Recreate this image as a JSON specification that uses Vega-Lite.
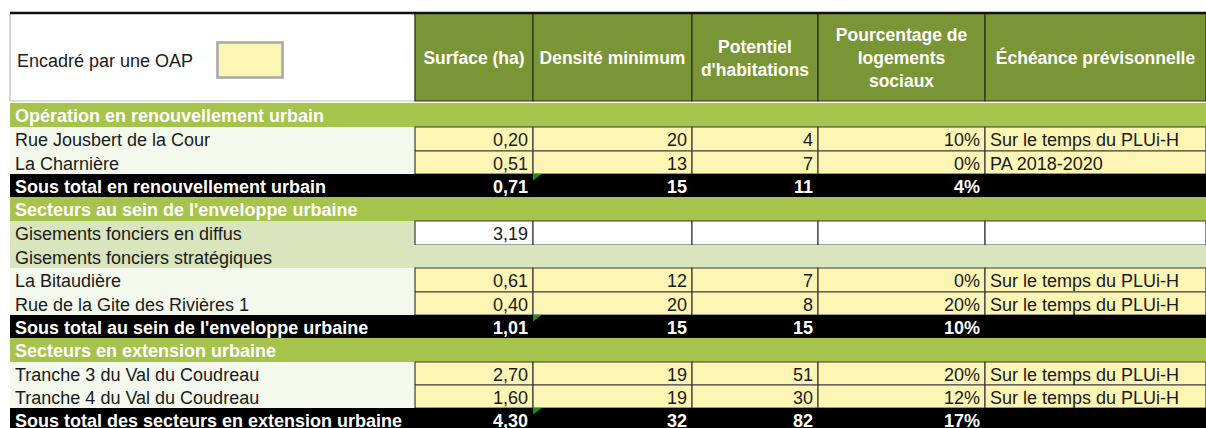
{
  "$schema": "https://vega.github.io/schema/vega-lite/v6.json",
  "width": 1206,
  "height": 428,
  "padding": 0,
  "autosize": {"type": "none"},
  "background": "white",
  "config": {"view": {"stroke": null}, "text": {"font": "Liberation Sans, Arial, sans-serif"}},
  "data": {"values": [
    {"l": 0, "c": 0, "c2": 1, "fond": "blanc", "role": "vide", "txt": ""},
    {"l": 0, "c": 1, "c2": 2, "fond": "entete", "role": "entete", "txt": "Surface (ha)"},
    {"l": 0, "c": 2, "c2": 3, "fond": "entete", "role": "entete", "txt": "Densité minimum"},
    {"l": 0, "c": 3, "c2": 4, "fond": "entete", "role": "entete", "txt": "Potentiel\nd'habitations"},
    {"l": 0, "c": 4, "c2": 5, "fond": "entete", "role": "entete", "txt": "Pourcentage de\nlogements\nsociaux"},
    {"l": 0, "c": 5, "c2": 6, "fond": "entete", "role": "entete", "txt": "Échéance prévisonnelle"},
    {"l": 2, "c": 0, "c2": 6, "fond": "section", "role": "section", "txt": "Opération en renouvellement urbain"},
    {"l": 3, "c": 0, "c2": 1, "fond": "libelle", "role": "libelle", "txt": "Rue Jousbert de la Cour"},
    {"l": 3, "c": 1, "c2": 2, "fond": "oap", "role": "nombre", "txt": "0,20"},
    {"l": 3, "c": 2, "c2": 3, "fond": "oap", "role": "nombre", "txt": "20"},
    {"l": 3, "c": 3, "c2": 4, "fond": "oap", "role": "nombre", "txt": "4"},
    {"l": 3, "c": 4, "c2": 5, "fond": "oap", "role": "nombre", "txt": "10%"},
    {"l": 3, "c": 5, "c2": 6, "fond": "oap", "role": "echeance", "txt": "Sur le temps du PLUi-H"},
    {"l": 4, "c": 0, "c2": 1, "fond": "libelle", "role": "libelle", "txt": "La Charnière"},
    {"l": 4, "c": 1, "c2": 2, "fond": "oap", "role": "nombre", "txt": "0,51"},
    {"l": 4, "c": 2, "c2": 3, "fond": "oap", "role": "nombre", "txt": "13"},
    {"l": 4, "c": 3, "c2": 4, "fond": "oap", "role": "nombre", "txt": "7"},
    {"l": 4, "c": 4, "c2": 5, "fond": "oap", "role": "nombre", "txt": "0%"},
    {"l": 4, "c": 5, "c2": 6, "fond": "oap", "role": "echeance", "txt": "PA 2018-2020"},
    {"l": 5, "c": 0, "c2": 1, "fond": "total", "role": "totlib", "txt": "Sous total en renouvellement urbain"},
    {"l": 5, "c": 1, "c2": 2, "fond": "total", "role": "totnb", "txt": "0,71"},
    {"l": 5, "c": 2, "c2": 3, "fond": "total", "role": "totnb", "txt": "15"},
    {"l": 5, "c": 3, "c2": 4, "fond": "total", "role": "totnb", "txt": "11"},
    {"l": 5, "c": 4, "c2": 5, "fond": "total", "role": "totnb", "txt": "4%"},
    {"l": 5, "c": 5, "c2": 6, "fond": "total", "role": "vide", "txt": ""},
    {"l": 6, "c": 0, "c2": 6, "fond": "section", "role": "section", "txt": "Secteurs au sein de l'enveloppe urbaine"},
    {"l": 7, "c": 0, "c2": 1, "fond": "gisement", "role": "libelle", "txt": "Gisements fonciers en diffus"},
    {"l": 7, "c": 1, "c2": 2, "fond": "vide", "role": "nombre", "txt": "3,19"},
    {"l": 7, "c": 2, "c2": 3, "fond": "vide", "role": "vide", "txt": ""},
    {"l": 7, "c": 3, "c2": 4, "fond": "vide", "role": "vide", "txt": ""},
    {"l": 7, "c": 4, "c2": 5, "fond": "vide", "role": "vide", "txt": ""},
    {"l": 7, "c": 5, "c2": 6, "fond": "vide", "role": "vide", "txt": ""},
    {"l": 8, "c": 0, "c2": 6, "fond": "gisement", "role": "libelle", "txt": "Gisements fonciers stratégiques"},
    {"l": 9, "c": 0, "c2": 1, "fond": "libelle", "role": "libelle", "txt": "La Bitaudière"},
    {"l": 9, "c": 1, "c2": 2, "fond": "oap", "role": "nombre", "txt": "0,61"},
    {"l": 9, "c": 2, "c2": 3, "fond": "oap", "role": "nombre", "txt": "12"},
    {"l": 9, "c": 3, "c2": 4, "fond": "oap", "role": "nombre", "txt": "7"},
    {"l": 9, "c": 4, "c2": 5, "fond": "oap", "role": "nombre", "txt": "0%"},
    {"l": 9, "c": 5, "c2": 6, "fond": "oap", "role": "echeance", "txt": "Sur le temps du PLUi-H"},
    {"l": 10, "c": 0, "c2": 1, "fond": "libelle", "role": "libelle", "txt": "Rue de la Gite des Rivières 1"},
    {"l": 10, "c": 1, "c2": 2, "fond": "oap", "role": "nombre", "txt": "0,40"},
    {"l": 10, "c": 2, "c2": 3, "fond": "oap", "role": "nombre", "txt": "20"},
    {"l": 10, "c": 3, "c2": 4, "fond": "oap", "role": "nombre", "txt": "8"},
    {"l": 10, "c": 4, "c2": 5, "fond": "oap", "role": "nombre", "txt": "20%"},
    {"l": 10, "c": 5, "c2": 6, "fond": "oap", "role": "echeance", "txt": "Sur le temps du PLUi-H"},
    {"l": 11, "c": 0, "c2": 1, "fond": "total", "role": "totlib", "txt": "Sous total au sein de l'enveloppe urbaine"},
    {"l": 11, "c": 1, "c2": 2, "fond": "total", "role": "totnb", "txt": "1,01"},
    {"l": 11, "c": 2, "c2": 3, "fond": "total", "role": "totnb", "txt": "15"},
    {"l": 11, "c": 3, "c2": 4, "fond": "total", "role": "totnb", "txt": "15"},
    {"l": 11, "c": 4, "c2": 5, "fond": "total", "role": "totnb", "txt": "10%"},
    {"l": 11, "c": 5, "c2": 6, "fond": "total", "role": "vide", "txt": ""},
    {"l": 12, "c": 0, "c2": 6, "fond": "section", "role": "section", "txt": "Secteurs en extension urbaine"},
    {"l": 13, "c": 0, "c2": 1, "fond": "libelle", "role": "libelle", "txt": "Tranche 3 du Val du Coudreau"},
    {"l": 13, "c": 1, "c2": 2, "fond": "oap", "role": "nombre", "txt": "2,70"},
    {"l": 13, "c": 2, "c2": 3, "fond": "oap", "role": "nombre", "txt": "19"},
    {"l": 13, "c": 3, "c2": 4, "fond": "oap", "role": "nombre", "txt": "51"},
    {"l": 13, "c": 4, "c2": 5, "fond": "oap", "role": "nombre", "txt": "20%"},
    {"l": 13, "c": 5, "c2": 6, "fond": "oap", "role": "echeance", "txt": "Sur le temps du PLUi-H"},
    {"l": 14, "c": 0, "c2": 1, "fond": "libelle", "role": "libelle", "txt": "Tranche 4 du Val du Coudreau"},
    {"l": 14, "c": 1, "c2": 2, "fond": "oap", "role": "nombre", "txt": "1,60"},
    {"l": 14, "c": 2, "c2": 3, "fond": "oap", "role": "nombre", "txt": "19"},
    {"l": 14, "c": 3, "c2": 4, "fond": "oap", "role": "nombre", "txt": "30"},
    {"l": 14, "c": 4, "c2": 5, "fond": "oap", "role": "nombre", "txt": "12%"},
    {"l": 14, "c": 5, "c2": 6, "fond": "oap", "role": "echeance", "txt": "Sur le temps du PLUi-H"},
    {"l": 15, "c": 0, "c2": 1, "fond": "total", "role": "totlib", "txt": "Sous total des secteurs en extension urbaine"},
    {"l": 15, "c": 1, "c2": 2, "fond": "total", "role": "totnb", "txt": "4,30"},
    {"l": 15, "c": 2, "c2": 3, "fond": "total", "role": "totnb", "txt": "32"},
    {"l": 15, "c": 3, "c2": 4, "fond": "total", "role": "totnb", "txt": "82"},
    {"l": 15, "c": 4, "c2": 5, "fond": "total", "role": "totnb", "txt": "17%"},
    {"l": 15, "c": 5, "c2": 6, "fond": "total", "role": "vide", "txt": ""}
  ]},
  "transform": [
    {"calculate": "datum.l + 1", "as": "l2"},
    {"calculate": "datum.l + 0.5", "as": "ym"},
    {"calculate": "(datum.c + datum.c2) / 2", "as": "cm"},
    {"calculate": "split(datum.txt, '\\n').length", "as": "nl"}
  ],
  "layer": [
    {
      "mark": {"type": "rect", "strokeWidth": 1.2},
      "encoding": {
        "x": {"field": "c", "type": "quantitative", "axis": null, "scale": {"domain": [0, 1, 2, 3, 4, 5, 6], "range": [10, 415, 533, 692, 818, 985, 1206], "zero": false, "nice": false}},
        "x2": {"field": "c2"},
        "y": {"field": "l", "type": "quantitative", "axis": null, "scale": {"domain": [0, 1, 2, 3, 4, 5, 6, 7, 8, 9, 10, 11, 12, 13, 14, 15, 16], "range": [13, 101, 103, 127, 151, 174, 197, 221, 245, 268, 292, 315, 338, 362, 385, 408, 431], "zero": false, "nice": false}},
        "y2": {"field": "l2"},
        "fill": {
          "field": "fond", "type": "nominal",
          "scale": {"domain": ["oap", "section", "total", "entete", "libelle", "gisement", "vide", "blanc"], "range": ["#FCF5B4", "#A6C34C", "#000000", "#7A9535", "#F4F9EE", "#D9E5BD", "#FFFFFF", "#FFFFFF"]},
          "legend": {
            "values": ["oap"], "title": null, "orient": "none", "legendX": 216, "legendY": 26,
            "padding": 0, "offset": 0,
            "symbolType": "M-1,-0.54L1,-0.54L1,0.54L-1,0.54Z", "symbolSize": 4225,
            "symbolStrokeColor": "#A6A6A6", "symbolStrokeWidth": 2.5, "symbolOpacity": 1,
            "labelExpr": "'Encadré par une OAP'", "labelAlign": "right", "labelOffset": -91,
            "labelFont": "Liberation Sans, Arial, sans-serif", "labelFontSize": 18, "labelColor": "#1a1a1a",
            "labelLimit": 400, "labelBaseline": "middle",
            "encode": {"symbols": {"update": {"stroke": {"value": "#A6A6A6"}, "strokeWidth": {"value": 2.5}}}, "labels": {"update": {"dy": {"value": 2}}}}
          }
        },
        "stroke": {
          "condition": [
            {"test": "datum.fond === 'oap' || datum.fond === 'vide'", "value": "#3A3A3A"},
            {"test": "datum.fond === 'entete'", "value": "#2A3314"},
            {"test": "datum.fond === 'blanc'", "value": "#BDBDBD"}
          ],
          "value": "transparent"
        }
      }
    },
    {
      "transform": [{"filter": "datum.l === 0"}],
      "mark": {"type": "rule", "color": "#111111", "strokeWidth": 2.5},
      "encoding": {
        "x": {"field": "c", "type": "quantitative", "axis": null, "scale": {"domain": [0, 1, 2, 3, 4, 5, 6], "range": [10, 415, 533, 692, 818, 985, 1206], "zero": false, "nice": false}},
        "x2": {"field": "c2"},
        "y": {"field": "l", "type": "quantitative", "axis": null, "scale": {"domain": [0, 1, 2, 3, 4, 5, 6, 7, 8, 9, 10, 11, 12, 13, 14, 15, 16], "range": [13, 101, 103, 127, 151, 174, 197, 221, 245, 268, 292, 315, 338, 362, 385, 408, 431], "zero": false, "nice": false}}
      }
    },
    {
      "transform": [{"filter": "datum.role === 'totnb' && datum.c === 2"}],
      "mark": {"type": "point", "shape": "M0,0L2.2,0L0,1.6Z", "size": 64, "filled": true, "color": "#1E8B1E", "opacity": 1, "strokeWidth": 0},
      "encoding": {
        "x": {"field": "c", "type": "quantitative", "axis": null, "scale": {"domain": [0, 1, 2, 3, 4, 5, 6], "range": [10, 415, 533, 692, 818, 985, 1206], "zero": false, "nice": false}},
        "y": {"field": "l", "type": "quantitative", "axis": null, "scale": {"domain": [0, 1, 2, 3, 4, 5, 6, 7, 8, 9, 10, 11, 12, 13, 14, 15, 16], "range": [13, 101, 103, 127, 151, 174, 197, 221, 245, 268, 292, 315, 338, 362, 385, 408, 431], "zero": false, "nice": false}}
      }
    },
    {
      "transform": [{"filter": "datum.role === 'libelle' || datum.role === 'echeance'"}],
      "mark": {"type": "text", "align": "left", "baseline": "middle", "dx": 5, "dy": 2, "fontSize": 18, "color": "#1a1a1a"},
      "encoding": {
        "x": {"field": "c", "type": "quantitative", "axis": null, "scale": {"domain": [0, 1, 2, 3, 4, 5, 6], "range": [10, 415, 533, 692, 818, 985, 1206], "zero": false, "nice": false}},
        "y": {"field": "ym", "type": "quantitative", "axis": null, "scale": {"domain": [0, 1, 2, 3, 4, 5, 6, 7, 8, 9, 10, 11, 12, 13, 14, 15, 16], "range": [13, 101, 103, 127, 151, 174, 197, 221, 245, 268, 292, 315, 338, 362, 385, 408, 431], "zero": false, "nice": false}},
        "text": {"field": "txt", "type": "nominal"}
      }
    },
    {
      "transform": [{"filter": "datum.role === 'section' || datum.role === 'totlib'"}],
      "mark": {"type": "text", "align": "left", "baseline": "middle", "dx": 5, "dy": 2, "fontSize": 18, "fontWeight": "bold", "color": "#FFFFFF"},
      "encoding": {
        "x": {"field": "c", "type": "quantitative", "axis": null, "scale": {"domain": [0, 1, 2, 3, 4, 5, 6], "range": [10, 415, 533, 692, 818, 985, 1206], "zero": false, "nice": false}},
        "y": {"field": "ym", "type": "quantitative", "axis": null, "scale": {"domain": [0, 1, 2, 3, 4, 5, 6, 7, 8, 9, 10, 11, 12, 13, 14, 15, 16], "range": [13, 101, 103, 127, 151, 174, 197, 221, 245, 268, 292, 315, 338, 362, 385, 408, 431], "zero": false, "nice": false}},
        "text": {"field": "txt", "type": "nominal"}
      }
    },
    {
      "transform": [{"filter": "datum.role === 'nombre'"}],
      "mark": {"type": "text", "align": "right", "baseline": "middle", "dx": -5, "dy": 2, "fontSize": 18, "color": "#1a1a1a"},
      "encoding": {
        "x": {"field": "c2", "type": "quantitative", "axis": null, "scale": {"domain": [0, 1, 2, 3, 4, 5, 6], "range": [10, 415, 533, 692, 818, 985, 1206], "zero": false, "nice": false}},
        "y": {"field": "ym", "type": "quantitative", "axis": null, "scale": {"domain": [0, 1, 2, 3, 4, 5, 6, 7, 8, 9, 10, 11, 12, 13, 14, 15, 16], "range": [13, 101, 103, 127, 151, 174, 197, 221, 245, 268, 292, 315, 338, 362, 385, 408, 431], "zero": false, "nice": false}},
        "text": {"field": "txt", "type": "nominal"}
      }
    },
    {
      "transform": [{"filter": "datum.role === 'totnb'"}],
      "mark": {"type": "text", "align": "right", "baseline": "middle", "dx": -5, "dy": 2, "fontSize": 18, "fontWeight": "bold", "color": "#FFFFFF"},
      "encoding": {
        "x": {"field": "c2", "type": "quantitative", "axis": null, "scale": {"domain": [0, 1, 2, 3, 4, 5, 6], "range": [10, 415, 533, 692, 818, 985, 1206], "zero": false, "nice": false}},
        "y": {"field": "ym", "type": "quantitative", "axis": null, "scale": {"domain": [0, 1, 2, 3, 4, 5, 6, 7, 8, 9, 10, 11, 12, 13, 14, 15, 16], "range": [13, 101, 103, 127, 151, 174, 197, 221, 245, 268, 292, 315, 338, 362, 385, 408, 431], "zero": false, "nice": false}},
        "text": {"field": "txt", "type": "nominal"}
      }
    },
    {
      "transform": [{"filter": "datum.role === 'entete' && datum.nl === 1"}],
      "mark": {"type": "text", "align": "center", "baseline": "middle", "dy": 2, "fontSize": 17.5, "fontWeight": "bold", "color": "#FFFFFF", "lineBreak": "\n", "lineHeight": 23},
      "encoding": {
        "x": {"field": "cm", "type": "quantitative", "axis": null, "scale": {"domain": [0, 1, 2, 3, 4, 5, 6], "range": [10, 415, 533, 692, 818, 985, 1206], "zero": false, "nice": false}},
        "y": {"field": "ym", "type": "quantitative", "axis": null, "scale": {"domain": [0, 1, 2, 3, 4, 5, 6, 7, 8, 9, 10, 11, 12, 13, 14, 15, 16], "range": [13, 101, 103, 127, 151, 174, 197, 221, 245, 268, 292, 315, 338, 362, 385, 408, 431], "zero": false, "nice": false}},
        "text": {"field": "txt", "type": "nominal"}
      }
    },
    {
      "transform": [{"filter": "datum.role === 'entete' && datum.nl === 2"}],
      "mark": {"type": "text", "align": "center", "baseline": "middle", "dy": -9.5, "fontSize": 17.5, "fontWeight": "bold", "color": "#FFFFFF", "lineBreak": "\n", "lineHeight": 23},
      "encoding": {
        "x": {"field": "cm", "type": "quantitative", "axis": null, "scale": {"domain": [0, 1, 2, 3, 4, 5, 6], "range": [10, 415, 533, 692, 818, 985, 1206], "zero": false, "nice": false}},
        "y": {"field": "ym", "type": "quantitative", "axis": null, "scale": {"domain": [0, 1, 2, 3, 4, 5, 6, 7, 8, 9, 10, 11, 12, 13, 14, 15, 16], "range": [13, 101, 103, 127, 151, 174, 197, 221, 245, 268, 292, 315, 338, 362, 385, 408, 431], "zero": false, "nice": false}},
        "text": {"field": "txt", "type": "nominal"}
      }
    },
    {
      "transform": [{"filter": "datum.role === 'entete' && datum.nl === 3"}],
      "mark": {"type": "text", "align": "center", "baseline": "middle", "dy": -21, "fontSize": 17.5, "fontWeight": "bold", "color": "#FFFFFF", "lineBreak": "\n", "lineHeight": 23},
      "encoding": {
        "x": {"field": "cm", "type": "quantitative", "axis": null, "scale": {"domain": [0, 1, 2, 3, 4, 5, 6], "range": [10, 415, 533, 692, 818, 985, 1206], "zero": false, "nice": false}},
        "y": {"field": "ym", "type": "quantitative", "axis": null, "scale": {"domain": [0, 1, 2, 3, 4, 5, 6, 7, 8, 9, 10, 11, 12, 13, 14, 15, 16], "range": [13, 101, 103, 127, 151, 174, 197, 221, 245, 268, 292, 315, 338, 362, 385, 408, 431], "zero": false, "nice": false}},
        "text": {"field": "txt", "type": "nominal"}
      }
    }
  ]
}
